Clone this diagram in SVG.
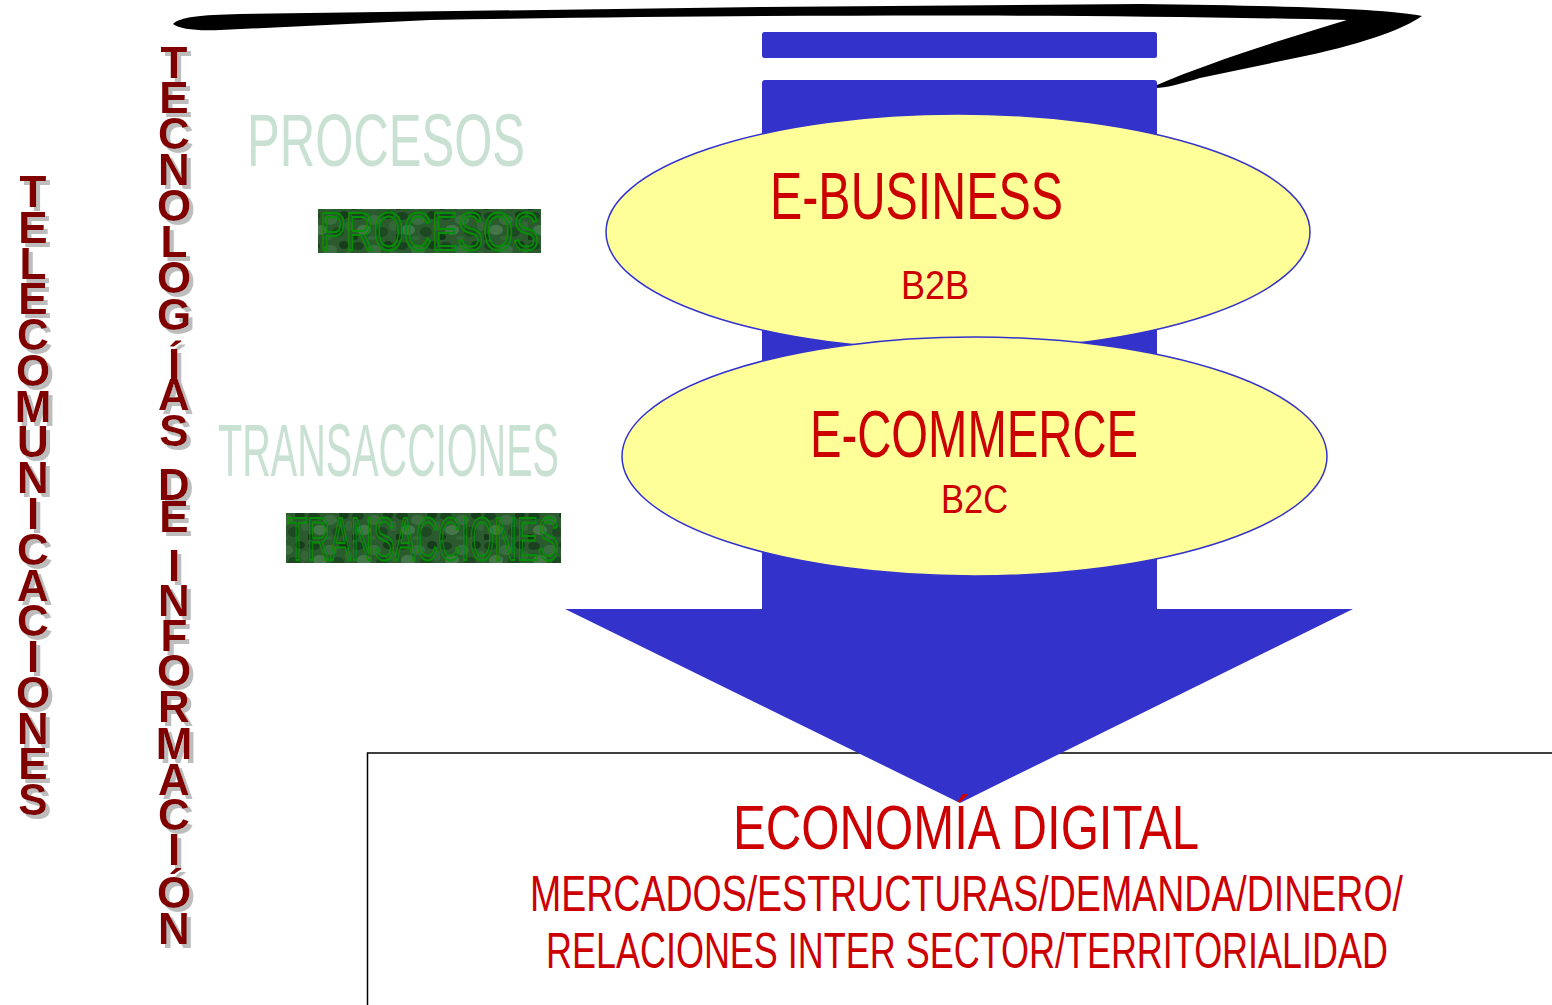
<svg xmlns="http://www.w3.org/2000/svg" width="1552" height="1005" viewBox="0 0 1552 1005">
<defs>
<pattern id="moss" width="44" height="30" patternUnits="userSpaceOnUse">
<rect width="44" height="30" fill="#2a5a2e"/>
<ellipse cx="6" cy="6" rx="6" ry="4" fill="#1a4220"/>
<ellipse cx="22" cy="10" rx="7" ry="5" fill="#3b6d41"/>
<ellipse cx="36" cy="5" rx="5" ry="4" fill="#173c1b"/>
<ellipse cx="12" cy="20" rx="7" ry="5" fill="#44764a"/>
<ellipse cx="30" cy="22" rx="6" ry="5" fill="#1d4822"/>
<ellipse cx="41" cy="16" rx="4" ry="5" fill="#356638"/>
<ellipse cx="2" cy="27" rx="4" ry="3" fill="#143818"/>
<ellipse cx="20" cy="28" rx="4" ry="2" fill="#33663a"/>
</pattern>
<filter id="shadow" x="-20%" y="-5%" width="160%" height="115%">
<feOffset in="SourceAlpha" dx="4" dy="4" result="off"/>
<feFlood flood-color="#bdbdbd"/>
<feComposite in2="off" operator="in" result="sh"/>
<feMerge><feMergeNode in="sh"/><feMergeNode in="SourceGraphic"/></feMerge>
</filter>
</defs>
<style>
.vt{font-family:"Liberation Sans",Arial,sans-serif;font-weight:bold;font-size:44px;text-anchor:middle;fill:#800000}
.cond{font-family:"Liberation Sans",Arial,sans-serif}
.ghost{fill:#c9e1d3;font-size:74px}
.moss{fill:none;stroke:#009000;stroke-width:2}
.lbl{fill:#cc0000;font-family:"Liberation Sans",Arial,sans-serif}
</style>
<rect width="1552" height="1005" fill="#ffffff"/>

<!-- brush stroke -->
<path d="M173,24 C180,17 200,15 240,14 L760,7 L1140,4 C1300,6 1385,9 1422,16 C1405,28 1370,42 1305,56 L1200,78 C1180,84 1166,88 1155,88 L1157,85 C1205,64 1280,40 1347,20 C1100,14 800,14 430,20 L220,30 C195,31 180,29 173,24 Z" fill="#000000"/>

<!-- bottom box -->
<g id="economia">
<rect x="367.5" y="753" width="1200" height="300" fill="#ffffff" stroke="#000000" stroke-width="1.5"/>
</g>

<!-- arrow -->
<g id="connectors">
<rect x="762" y="32" width="395" height="26" rx="2.5" fill="#3333cc"/>
<path d="M762,83 Q762,80 765,80 L1154,80 Q1157,80 1157,83 L1157,609 L1353,609 L960,803 L565,609 L762,609 Z" fill="#3333cc"/>
</g>

<g id="ebusiness">
<ellipse cx="958" cy="232" rx="352" ry="118" fill="#ffff99" stroke="#3333cc" stroke-width="1.5"/>
<text class="lbl" x="770" y="219" font-size="66" textLength="293" lengthAdjust="spacingAndGlyphs">E-BUSINESS</text>
<text class="lbl" x="901" y="299" font-size="40" textLength="68" lengthAdjust="spacingAndGlyphs">B2B</text>
</g>

<g id="ecommerce">
<ellipse cx="974.5" cy="456.5" rx="352.5" ry="119.5" fill="#ffff99" stroke="#3333cc" stroke-width="1.5"/>
<text class="lbl" x="810" y="457" font-size="66" textLength="328" lengthAdjust="spacingAndGlyphs">E-COMMERCE</text>
<text class="lbl" x="941" y="513" font-size="40" textLength="67" lengthAdjust="spacingAndGlyphs">B2C</text>
</g>

<g id="economia-text">
<text class="lbl" x="733" y="849" font-size="63" textLength="466" lengthAdjust="spacingAndGlyphs">ECONOMÍA DIGITAL</text>
<text class="lbl" x="530" y="911" font-size="50" textLength="873" lengthAdjust="spacingAndGlyphs">MERCADOS/ESTRUCTURAS/DEMANDA/DINERO/</text>
<text class="lbl" x="546" y="968" font-size="50" textLength="842" lengthAdjust="spacingAndGlyphs">RELACIONES INTER SECTOR/TERRITORIALIDAD</text>
</g>

<g id="procesos">
<text class="cond ghost" x="247" y="166" textLength="278" lengthAdjust="spacingAndGlyphs">PROCESOS</text>
<rect x="318" y="209" width="223" height="44" fill="url(#moss)"/>
<text class="cond moss" x="320" y="250" font-size="53" textLength="219" lengthAdjust="spacingAndGlyphs">PROCESOS</text>
</g>

<g id="transacciones">
<text class="cond ghost" x="218" y="476" textLength="341" lengthAdjust="spacingAndGlyphs">TRANSACCIONES</text>
<rect x="286" y="513" width="275" height="50" fill="url(#moss)"/>
<text class="cond moss" x="288" y="560" font-size="61" textLength="271" lengthAdjust="spacingAndGlyphs">TRANSACCIONES</text>
</g>

<g id="telecomunicaciones" filter="url(#shadow)">
<text class="vt"><tspan x="33" y="207">T</tspan><tspan x="33" y="243">E</tspan><tspan x="33" y="279">L</tspan><tspan x="33" y="314">E</tspan><tspan x="33" y="350">C</tspan><tspan x="33" y="386">O</tspan><tspan x="33" y="422">M</tspan><tspan x="33" y="457">U</tspan><tspan x="33" y="493">N</tspan><tspan x="33" y="529">I</tspan><tspan x="33" y="565">C</tspan><tspan x="33" y="601">A</tspan><tspan x="33" y="636">C</tspan><tspan x="33" y="672">I</tspan><tspan x="33" y="708">O</tspan><tspan x="33" y="744">N</tspan><tspan x="33" y="779">E</tspan><tspan x="33" y="815">S</tspan></text>
</g>

<g id="tecnologias" filter="url(#shadow)">
<text class="vt"><tspan x="174" y="78">T</tspan><tspan x="174" y="113">E</tspan><tspan x="174" y="149">C</tspan><tspan x="174" y="185">N</tspan><tspan x="174" y="221">O</tspan><tspan x="174" y="257">L</tspan><tspan x="174" y="293">O</tspan><tspan x="174" y="330">G</tspan><tspan x="174" y="380">Í</tspan><tspan x="174" y="410">A</tspan><tspan x="174" y="446">S</tspan><tspan x="174" y="500">D</tspan><tspan x="174" y="532">E</tspan><tspan x="174" y="581">I</tspan><tspan x="174" y="616">N</tspan><tspan x="174" y="651">F</tspan><tspan x="174" y="686">O</tspan><tspan x="174" y="722">R</tspan><tspan x="174" y="759">M</tspan><tspan x="174" y="795">A</tspan><tspan x="174" y="830">C</tspan><tspan x="174" y="865">I</tspan><tspan x="174" y="908">Ó</tspan><tspan x="174" y="944">N</tspan></text>
</g>
</svg>
